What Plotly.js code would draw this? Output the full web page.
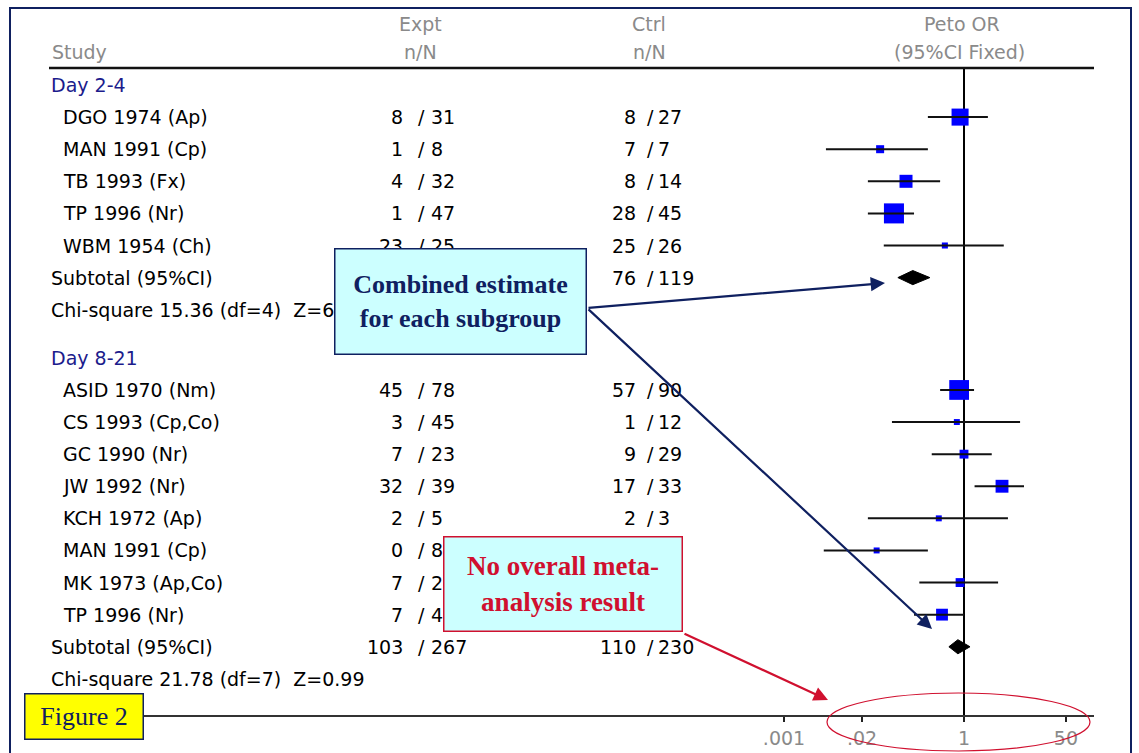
<!DOCTYPE html>
<html><head><meta charset="utf-8">
<script src="https://cdn.plot.ly/plotly-3.0.1.min.js"></script>
<style>body{margin:0;background:#fff}#chart{width:1139px;height:753px}</style>
</head><body><div id="chart"></div>
<script>
// ---------------- DATA ----------------
const groupNames = ['Day 2-4', 'Day 8-21'];
const studyLabels = ['DGO 1974 (Ap)', 'MAN 1991 (Cp)', 'TB 1993 (Fx)', 'TP 1996 (Nr)', 'WBM 1954 (Ch)',
  'ASID 1970 (Nm)', 'CS 1993 (Cp,Co)', 'GC 1990 (Nr)', 'JW 1992 (Nr)', 'KCH 1972 (Ap)', 'MAN 1991 (Cp)', 'MK 1973 (Ap,Co)', 'TP 1996 (Nr)'];
const studyGroup = [0, 0, 0, 0, 0, 1, 1, 1, 1, 1, 1, 1, 1];
const exptEvents = [8, 1, 4, 1, 23, 45, 3, 7, 32, 2, 0, 7, 7];
const exptTotal  = [31, 8, 32, 47, 25, 78, 45, 23, 39, 5, 8, 22, 47];
const ctrlEvents = [8, 7, 8, 28, 25, 57, 1, 9, 17, 2, 6, 3, 15];
const ctrlTotal  = [27, 7, 14, 45, 26, 90, 12, 29, 33, 3, 7, 11, 45];
const orEst  = [0.86, 0.04, 0.108, 0.068, 0.48, 0.83, 0.76, 1.0, 4.3, 0.38, 0.035, 0.86, 0.43];
const orLow  = [0.25, 0.005, 0.025, 0.025, 0.046, 0.4, 0.063, 0.29, 1.5, 0.025, 0.0046, 0.18, 0.147];
const orHigh = [2.5, 0.25, 0.4, 0.147, 4.6, 1.47, 8.6, 2.9, 10, 5.4, 0.25, 3.7, 1.0];
const weights = [30.2, 6.7, 17.6, 41.8, 3.8, 40.7, 3.7, 8.2, 17.2, 3.7, 3.7, 8.2, 14.6];

const subExptEvents = [37, 103];
const subExptTotal  = [143, 267];
const subCtrlEvents = [76, 110];
const subCtrlTotal  = [119, 230];
const subOR   = [0.14, 0.79];
const subLow  = [0.079, 0.56];
const subHigh = [0.27, 1.26];
const chiLabels = ['Chi-square 15.36 (df=4)\u00a0\u00a0Z=6.12', 'Chi-square 21.78 (df=7)\u00a0\u00a0Z=0.99'];

const tickVals = [0.001, 0.02, 1, 50];
const tickText = ['.001', '.02', '1', '50'];

// ---------------- LAYOUT HELPERS ----------------
const W = 1139, H = 753, B = 37, PH = H - B;
const ROW0 = 85, ROWH = 32.1;
const px = p => p / W;
const py = p => 1 - p / PH;
const pxToRow = p => (p - ROW0) / ROWH;

// row assignment
const studyRow = [];
const headerRow = [], subRow = [], chiRow = [];
let r = 0;
for (let g = 0; g < groupNames.length; g++) {
  headerRow.push(r); r += 1;
  studyGroup.forEach((sg, i) => { if (sg === g) { studyRow[i] = r; r += 1; } });
  subRow.push(r); r += 1;
  chiRow.push(r); r += 1.5;
}

const FONT = 'DejaVu Sans';
const annotations = [];
function txt(text, xpix, row, anchor, color, size) {
  annotations.push({xref: 'paper', yref: 'y', x: px(xpix), y: row, text: text, showarrow: false,
    xanchor: anchor, yanchor: 'middle', font: {family: FONT, size: size || 19, color: color || '#000'}});
}
function nN(n, N, row, col) {
  const c = col === 0 ? [405, 421, 429] : [638, 650, 656];
  txt(String(n), c[0], row, 'right');
  txt('/', c[1], row, 'center');
  txt(String(N), c[2], row, 'left');
}

// headers
const GRAY = '#8a8a8a';
function head(text, xpix, ypix, anchor) {
  annotations.push({xref:'paper', yref:'paper', x: px(xpix), y: py(ypix), text: text, showarrow:false,
    xanchor: anchor, yanchor:'middle', font:{family:FONT, size:19, color:GRAY}});
}
head('Study', 50, 52, 'left');
head('Expt', 420, 24, 'center');
head('n/N', 420, 52, 'center');
head('Ctrl', 649, 24, 'center');
head('n/N', 649, 52, 'center');
head('Peto OR', 962, 24, 'center');
head('(95%CI Fixed)', 959, 52, 'center');

for (let g = 0; g < groupNames.length; g++) {
  txt(groupNames[g], 49, headerRow[g], 'left', '#1c1c8c');
  txt('Subtotal (95%CI)', 49, subRow[g], 'left');
  nN(subExptEvents[g], subExptTotal[g], subRow[g], 0);
  nN(subCtrlEvents[g], subCtrlTotal[g], subRow[g], 1);
  txt(chiLabels[g], 49, chiRow[g], 'left');
}
studyLabels.forEach((s, i) => {
  txt(s, 61, studyRow[i], 'left');
  nN(exptEvents[i], exptTotal[i], studyRow[i], 0);
  nN(ctrlEvents[i], ctrlTotal[i], studyRow[i], 1);
});

// callout boxes
const NAVY = '#0f2060', RED = '#d0102f';
annotations.push({xref:'paper', yref:'paper', x: px(334), y: py(248), xanchor:'left', yanchor:'top',
  text:'<b>Combined estimate<br>for each subgroup</b>', showarrow:false, width: 250, height: 104,
  bgcolor:'#ccffff', bordercolor:NAVY, borderwidth:1.5, borderpad:0,
  font:{family:'Liberation Serif', size:26, color:NAVY}});
annotations.push({xref:'paper', yref:'paper', x: px(443), y: py(536), xanchor:'left', yanchor:'top',
  text:'<b>No overall meta-<br>analysis result</b>', showarrow:false, width: 237, height: 93,
  bgcolor:'#ccffff', bordercolor:RED, borderwidth:1.5, borderpad:0,
  font:{family:'Liberation Serif', size:27, color:RED}});
annotations.push({xref:'paper', yref:'paper', x: px(24), y: py(693), xanchor:'left', yanchor:'top',
  text:'Figure 2', showarrow:false, width: 117, height: 44,
  bgcolor:'#ffff00', bordercolor:NAVY, borderwidth:1.5, borderpad:0,
  font:{family:'Liberation Serif', size:26, color:NAVY}});

function arrow(tx, ty, hx, hy, color) {
  annotations.push({xref:'paper', yref:'paper', x: px(hx), y: py(hy), ax: tx - hx, ay: ty - hy,
    text:'', showarrow:true, arrowhead:2, arrowsize:1.3, arrowwidth:2.2, arrowcolor:color, standoff:0});
}
arrow(587, 308, 885, 283, NAVY);
arrow(587, 308, 932, 629, NAVY);
arrow(683, 633, 828, 700, RED);

// ---------------- TRACES ----------------
const traces = [];
// vertical line of no effect
traces.push({type:'scatter', mode:'lines', x:[1, 1], y:[pxToRow(68), pxToRow(716)],
  line:{color:'#000', width:2}, hoverinfo:'skip', showlegend:false});
// study squares
traces.push({type:'scatter', mode:'markers', x: orEst, y: studyRow,
  marker:{symbol:'square', color:'#0000ff', opacity:1, size: weights.map(w => 3.1 * Math.sqrt(w)), line:{width:0}},
  hoverinfo:'skip', showlegend:false});
// CI lines
const cx = [], cy = [];
orEst.forEach((v, i) => { cx.push(orLow[i], orHigh[i], null); cy.push(studyRow[i], studyRow[i], null); });
traces.push({type:'scatter', mode:'lines', x: cx, y: cy, line:{color:'#111', width:2}, hoverinfo:'skip', showlegend:false, connectgaps:false});
// subtotal diamonds
const DH = 0.22;
subOR.forEach((v, g) => {
  const rr = subRow[g];
  traces.push({type:'scatter', mode:'lines', fill:'toself', fillcolor:'#000',
    x:[subLow[g], v, subHigh[g], v, subLow[g]], y:[rr, rr - DH, rr, rr + DH, rr],
    line:{color:'#000', width:1}, hoverinfo:'skip', showlegend:false});
});

const shapes = [
  {type:'line', xref:'paper', yref:'paper', x0:px(49), x1:px(1094), y0:py(68), y1:py(68), line:{color:'#111', width:2.5}},
  {type:'line', xref:'paper', yref:'paper', x0:px(48), x1:px(1094), y0:py(716), y1:py(716), line:{color:'#333', width:2}},
  {type:'circle', xref:'paper', yref:'paper', x0:px(827), x1:px(1090), y0:py(693), y1:py(751), line:{color:RED, width:1.2}},
  {type:'rect', xref:'paper', yref:'paper', x0:px(10), x1:px(1131), y0:py(8), y1:py(775), line:{color:NAVY, width:2}}
];

const layout = {
  width: W, height: H, margin:{l:0, r:0, t:0, b:B, pad:0},
  paper_bgcolor:'#fff', plot_bgcolor:'#fff', showlegend:false,
  xaxis:{type:'log', range:[(0 - 964) / 60, (W - 964) / 60], tickvals: tickVals, ticktext: tickText,
    ticks:'outside', ticklen:5, tickwidth:2, tickcolor:'#222', showgrid:false, zeroline:false, showline:false,
    tickfont:{family:FONT, size:19, color:GRAY}, fixedrange:true},
  yaxis:{range:[pxToRow(PH), pxToRow(0)], visible:false, showgrid:false, zeroline:false, fixedrange:true},
  shapes: shapes, annotations: annotations, hovermode:false
};
Plotly.newPlot('chart', traces, layout, {displayModeBar:false, staticPlot:true});
</script></body></html>
